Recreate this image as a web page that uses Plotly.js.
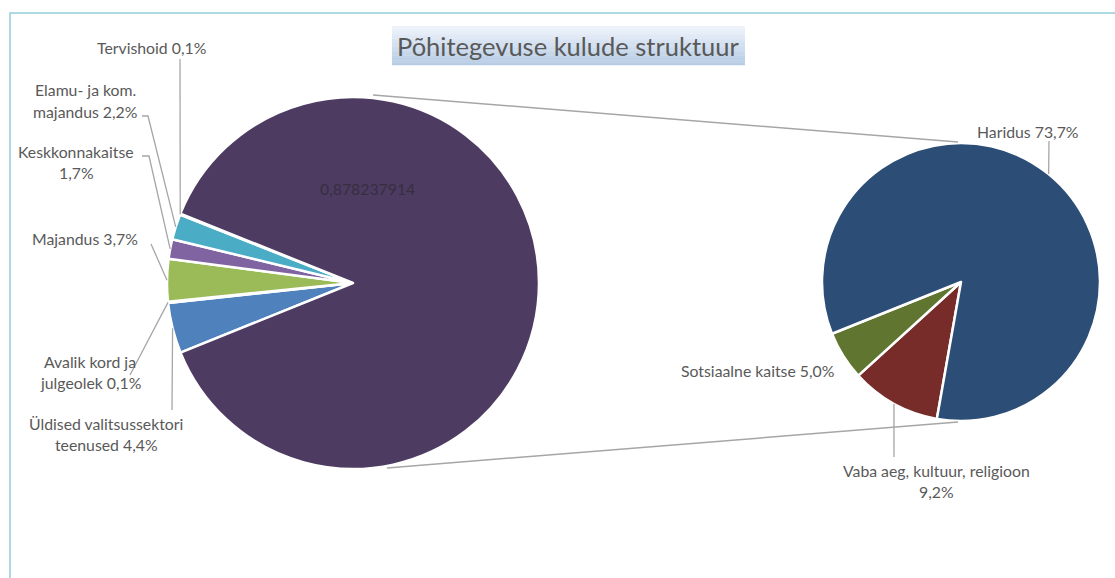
<!DOCTYPE html>
<html>
<head>
<meta charset="utf-8">
<script src="https://cdn.plot.ly/plotly-3.0.1.min.js"></script>
<style>
  html, body { margin: 0; padding: 0; background: #fff; }
  #chart { width: 1115px; height: 578px; }
</style>
</head>
<body>
<div id="chart"></div>
<script>
// main pie: small items + the "other" slice that is broken out on the right
let mainNames = ['Üldised valitsussektori<br>teenused', 'Avalik kord ja<br>julgeolek', 'Majandus',
  'Keskkonnakaitse', 'Elamu- ja kom.<br>majandus', 'Tervishoid', 'Muu'];
let mainValues = [4.4, 0.1, 3.7, 1.7, 2.2, 0.1, 87.8237914];
let mainColors = ['#4F81BD', '#C0504D', '#9BBB59', '#8064A2', '#4BACC6', '#F79646', '#4D3B62'];

// secondary pie
let secNames = ['Vaba aeg, kultuur, religioon', 'Sotsiaalne kaitse', 'Haridus'];
let secValues = [9.2, 5.0, 73.7];
let secColors = ['#772C2A', '#5F7530', '#2C4D75'];

let chartTitle = 'Põhitegevuse kulude struktuur';

const W = 1115, H = 578;
const px = x => x / W;
const py = y => 1 - y / H;

// pie geometry in pixels (start angle is math degrees, slices go clockwise)
let mainPie = { cx: 353, cy: 283, r: 186, start: 202 };
let secPie = { cx: 961, cy: 282, r: 139, start: 260 };

function domainOf(p) {
  return { x: [px(p.cx - p.r), px(p.cx + p.r)], y: [py(p.cy + p.r), py(p.cy - p.r)] };
}

function fmtPct(v) {
  return v.toFixed(1).replace('.', ',') + '%';
}

// point on the rim at the middle of slice i
function midPoint(p, values, i) {
  let total = values.reduce((s, v) => s + v, 0);
  let before = values.slice(0, i).reduce((s, v) => s + v, 0);
  let ang = (p.start - 360 * (before + values[i] / 2) / total) * Math.PI / 180;
  return [p.cx + p.r * Math.cos(ang), p.cy - p.r * Math.sin(ang)];
}

let traceMain = {
  type: 'pie',
  values: mainValues,
  labels: mainNames,
  sort: false,
  direction: 'clockwise',
  rotation: 90 - mainPie.start,
  marker: { colors: mainColors, line: { color: '#ffffff', width: 2.5 } },
  textinfo: 'none',
  hoverinfo: 'none',
  domain: domainOf(mainPie),
  showlegend: false
};

let traceSec = {
  type: 'pie',
  values: secValues,
  labels: secNames,
  sort: false,
  direction: 'clockwise',
  rotation: 90 - secPie.start,
  marker: { colors: secColors, line: { color: '#ffffff', width: 2.5 } },
  textinfo: 'none',
  hoverinfo: 'none',
  domain: domainOf(secPie),
  showlegend: false
};

// label placement: centre of the first text line, separator before the value, leader start
let mainLabelPos = [
  { x: 106, y: 423, lead: [[172, 410]] },
  { x: 90, y: 361, lead: [[130, 375]] },
  { x: 85, y: 238, lead: [[151, 244]] },
  { x: 76, y: 151, sep: '<br>', lead: [[142, 156], [149, 156]] },
  { x: 85, y: 90, lead: [[142, 116], [148, 116]] },
  { x: 151, y: 48, lead: [[180, 59]] },
  null
];
let secLabelPos = [
  { x: 936, y: 470, sep: '<br>', lead: [[894, 457]] },
  { x: 757, y: 370, lead: null },
  { x: 1028, y: 131, lead: [[1049, 141]] }
];

let labelFont = { family: 'Lato, "Open Sans", sans-serif', size: 15.8, color: '#595959' };
let annotations = [];
let shapes = [];

function addLabel(text, pos) {
  let lines = text.split('<br>');
  lines.forEach((ln, k) => {
    annotations.push({
      xref: 'paper', yref: 'paper',
      x: px(pos.x), y: py(pos.y + k * 21.5),
      text: ln, showarrow: false,
      xanchor: 'center', yanchor: 'middle',
      font: labelFont
    });
  });
}

function addLeader(pos, tip) {
  if (!pos.lead) return;
  let pts = pos.lead.concat([tip]);
  let d = pts.map((p, k) => (k ? 'L' : 'M') + px(p[0]) + ',' + py(p[1])).join(' ');
  shapes.push({
    type: 'path', xref: 'paper', yref: 'paper', path: d,
    line: { color: '#A6A6A6', width: 1.3 }
  });
}

mainNames.forEach((name, i) => {
  let pos = mainLabelPos[i];
  if (!pos) return;
  let sep = pos.sep || ' ';
  addLabel(name + sep + fmtPct(mainValues[i]), pos);
  addLeader(pos, midPoint(mainPie, mainValues, i));
});

secNames.forEach((name, i) => {
  let pos = secLabelPos[i];
  let sep = pos.sep || ' ';
  addLabel(name + sep + fmtPct(secValues[i]), pos);
  addLeader(pos, midPoint(secPie, secValues, i));
});

// the value of the big slice, as Excel shows it
annotations.push({
  xref: 'paper', yref: 'paper', x: px(367), y: py(188),
  text: (mainValues[6] / 100).toFixed(9).replace('.', ','),
  showarrow: false, xanchor: 'center', yanchor: 'middle',
  font: { family: 'Lato, "Open Sans", sans-serif', size: 15.8, color: '#362F40' }
});

// connector lines between the two pies
shapes.push({ type: 'line', xref: 'paper', yref: 'paper',
  x0: px(373), y0: py(95), x1: px(958), y1: py(142),
  line: { color: '#A6A6A6', width: 1.5 } });
shapes.push({ type: 'line', xref: 'paper', yref: 'paper',
  x0: px(387), y0: py(468), x1: px(958), y1: py(422),
  line: { color: '#A6A6A6', width: 1.5 } });

// chart area frame (only top and left edges are in view)
shapes.push({ type: 'rect', xref: 'paper', yref: 'paper',
  x0: px(10), y0: py(13), x1: px(1130), y1: py(600),
  line: { color: '#93CDDD', width: 1.5 }, layer: 'below' });

// title box with a vertical gradient, done as thin bands
let box = { x0: 392, x1: 745, y0: 26, y1: 65 };
let bands = 16;
for (let b = 0; b < bands; b++) {
  let t = b / (bands - 1);
  let r = Math.round(238 + (182 - 238) * t);
  let g = Math.round(243 + (203 - 243) * t);
  let bl = Math.round(250 + (228 - 250) * t);
  let h = (box.y1 - box.y0) / bands;
  shapes.push({ type: 'rect', xref: 'paper', yref: 'paper',
    x0: px(box.x0), x1: px(box.x1),
    y0: py(box.y0 + b * h + h + 0.3), y1: py(box.y0 + b * h),
    line: { width: 0 }, fillcolor: 'rgb(' + r + ',' + g + ',' + bl + ')', layer: 'below' });
}
annotations.push({
  xref: 'paper', yref: 'paper', x: px((box.x0 + box.x1) / 2), y: py(46),
  text: chartTitle, showarrow: false, xanchor: 'center', yanchor: 'middle',
  font: { family: 'Lato, "Open Sans", sans-serif', size: 25.5, color: '#595959' }
});

let layout = {
  width: W,
  height: H,
  margin: { l: 0, r: 0, t: 0, b: 0 },
  paper_bgcolor: '#ffffff',
  plot_bgcolor: '#ffffff',
  showlegend: false,
  annotations: annotations,
  shapes: shapes
};

Plotly.newPlot('chart', [traceMain, traceSec], layout, { displayModeBar: false, staticPlot: true });
</script>
</body>
</html>
